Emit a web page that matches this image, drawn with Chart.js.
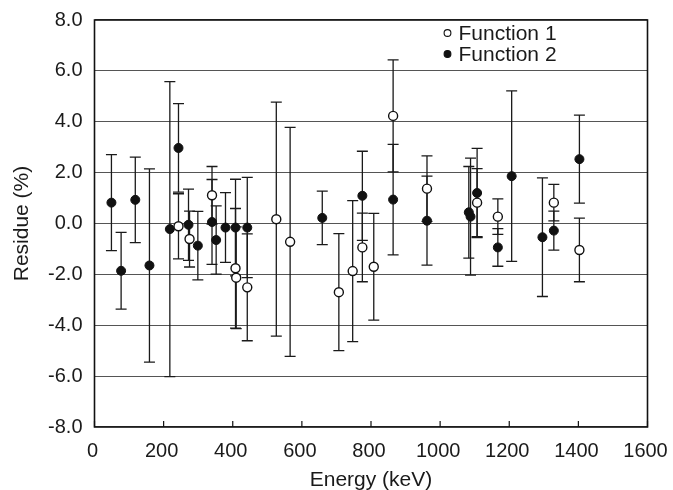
<!DOCTYPE html>
<html>
<head>
<meta charset="utf-8">
<script src="https://cdn.jsdelivr.net/npm/chart.js@4.4.1/dist/chart.umd.min.js"></script>
<style>
html,body{margin:0;padding:0;background:#fff;}
#wrap{width:673px;height:490px;}
</style>
</head>
<body>
<div id="wrap"><canvas id="c" width="673" height="490"></canvas></div>
<script>
// ---- data ----
const seriesNames = ["Function 1", "Function 2"];
const energy1 = [243, 275, 340, 408, 410, 442, 526, 566, 707, 747, 775, 808, 864, 962, 1107, 1167, 1329, 1403];
const residue1 = [-0.11, -0.61, 1.11, -1.76, -2.13, -2.51, 0.17, -0.72, -2.70, -1.87, -0.94, -1.70, 4.23, 1.37, 0.82, 0.27, 0.82, -1.04];
const error1 = [1.28, 1.10, 1.13, 2.35, 2.00, 2.10, 4.60, 4.50, 2.30, 2.77, 1.35, 2.10, 2.20, 1.29, 1.34, 0.70, 0.72, 1.25];

const energy2 = [49, 77, 118, 159, 218, 243, 272, 299, 340, 352, 379, 408, 442, 659, 775, 864, 962, 1083, 1088, 1107, 1167, 1207, 1296, 1329, 1403];
const residue2 = [0.82, -1.86, 0.93, -1.65, -0.22, 2.97, -0.05, -0.87, 0.06, -0.65, -0.16, -0.16, -0.16, 0.22, 1.09, 0.94, 0.11, 0.44, 0.27, 1.20, -0.94, 1.86, -0.54, -0.28, 2.53];
const error2 = [1.89, 1.51, 1.68, 3.80, 5.80, 1.74, 1.40, 1.35, 1.67, 1.34, 1.37, 1.90, 1.97, 1.05, 1.75, 2.17, 1.75, 1.80, 2.30, 1.75, 0.74, 3.35, 2.33, 0.77, 1.73];

const xTicks = [0, 200, 400, 600, 800, 1000, 1200, 1400, 1600];
const yTicks = [-8, -6, -4, -2, 0, 2, 4, 6, 8];

function pts(xs, ys, es) {
  return xs.map((x, i) => ({x: x, y: ys[i], err: es[i]}));
}

const FONT = "'Liberation Sans', Arial, Helvetica, sans-serif";

const errorBars = {
  id: 'errorBars',
  beforeDatasetsDraw(chart) {
    const ctx = chart.ctx;
    const xs = chart.scales.x, ys = chart.scales.y;
    ctx.save();
    ctx.strokeStyle = '#1a1a1a';
    ctx.lineWidth = 1.3;
    chart.data.datasets.forEach(ds => {
      ds.data.forEach(p => {
        const px = xs.getPixelForValue(p.x);
        const top = ys.getPixelForValue(p.y + p.err);
        const bot = ys.getPixelForValue(p.y - p.err);
        const cw = 5.5;
        ctx.beginPath();
        ctx.moveTo(px, top); ctx.lineTo(px, bot);
        ctx.moveTo(px - cw, top); ctx.lineTo(px + cw, top);
        ctx.moveTo(px - cw, bot); ctx.lineTo(px + cw, bot);
        ctx.stroke();
      });
    });
    ctx.restore();
  },
  afterDraw(chart) {
    const ctx = chart.ctx;
    const a = chart.chartArea;
    const xs = chart.scales.x;
    ctx.save();
    // frame
    ctx.strokeStyle = '#111';
    ctx.lineWidth = 1.6;
    ctx.strokeRect(a.left, a.top, a.right - a.left, a.bottom - a.top);
    // inward x ticks
    ctx.lineWidth = 1.2;
    ctx.beginPath();
    xTicks.forEach(t => {
      const px = xs.getPixelForValue(t);
      ctx.moveTo(px, a.bottom); ctx.lineTo(px, a.bottom - 6);
    });
    ctx.stroke();
    // legend
    const lx = a.left + 353, ly = a.top + 13;
    ctx.font = "21px " + FONT;
    ctx.textBaseline = 'middle';
    ctx.textAlign = 'left';
    chart.data.datasets.forEach((ds, i) => {
      const y = ly + i * 21;
      ctx.beginPath();
      ctx.arc(lx, y, 3.4, 0, Math.PI * 2);
      ctx.fillStyle = ds.backgroundColor;
      ctx.fill();
      ctx.strokeStyle = '#111';
      ctx.lineWidth = 1.1;
      ctx.stroke();
      ctx.fillStyle = '#1a1a1a';
      ctx.fillText(ds.label, lx + 11, y + 1);
    });
    ctx.restore();
  }
};

new Chart(document.getElementById('c'), {
  type: 'scatter',
  data: {
    datasets: [
      {
        label: seriesNames[0],
        data: pts(energy1, residue1, error1),
        backgroundColor: '#ffffff',
        borderColor: '#111111',
        borderWidth: 1.4,
        pointRadius: 4.5,
        pointHoverRadius: 4.5
      },
      {
        label: seriesNames[1],
        data: pts(energy2, residue2, error2),
        backgroundColor: '#111111',
        borderColor: '#111111',
        borderWidth: 1,
        pointRadius: 4.5,
        pointHoverRadius: 4.5
      }
    ]
  },
  options: {
    responsive: false,
    animation: false,
    layout: {padding: {top: 20, right: 25.5, left: 0, bottom: 0}},
    plugins: {legend: {display: false}, tooltip: {enabled: false}},
    scales: {
      x: {
        type: 'linear',
        min: 0, max: 1600,
        afterBuildTicks(s) { s.ticks = xTicks.map(v => ({value: v})); },
        afterFit(s) { s.height = 63; s.paddingLeft = 0; s.paddingRight = 0; },
        grid: {display: false, drawTicks: false},
        border: {display: false},
        ticks: {
          padding: 12,
          labelOffset: -2,
          maxRotation: 0,
          color: '#1a1a1a',
          font: {family: FONT, size: 20},
          callback: v => String(v)
        },
        title: {
          display: true,
          text: 'Energy (keV)',
          color: '#1a1a1a',
          font: {family: FONT, size: 21, lineHeight: 1},
          padding: {top: 0, bottom: -1}
        }
      },
      y: {
        min: -8, max: 8,
        afterBuildTicks(s) { s.ticks = yTicks.map(v => ({value: v})); },
        afterFit(s) { s.width = 94.5; s.paddingTop = 0; s.paddingBottom = 0; },
        grid: {color: '#555555', lineWidth: 1.1, drawTicks: false},
        border: {display: false},
        ticks: {
          padding: 12,
          color: '#1a1a1a',
          font: {family: FONT, size: 20},
          callback: v => Number(v).toFixed(1)
        },
        title: {
          display: true,
          text: 'Residue (%)',
          color: '#1a1a1a',
          font: {family: FONT, size: 21, lineHeight: 1},
          padding: {top: 12, bottom: 0}
        }
      }
    }
  },
  plugins: [errorBars]
});
</script>
</body>
</html>
